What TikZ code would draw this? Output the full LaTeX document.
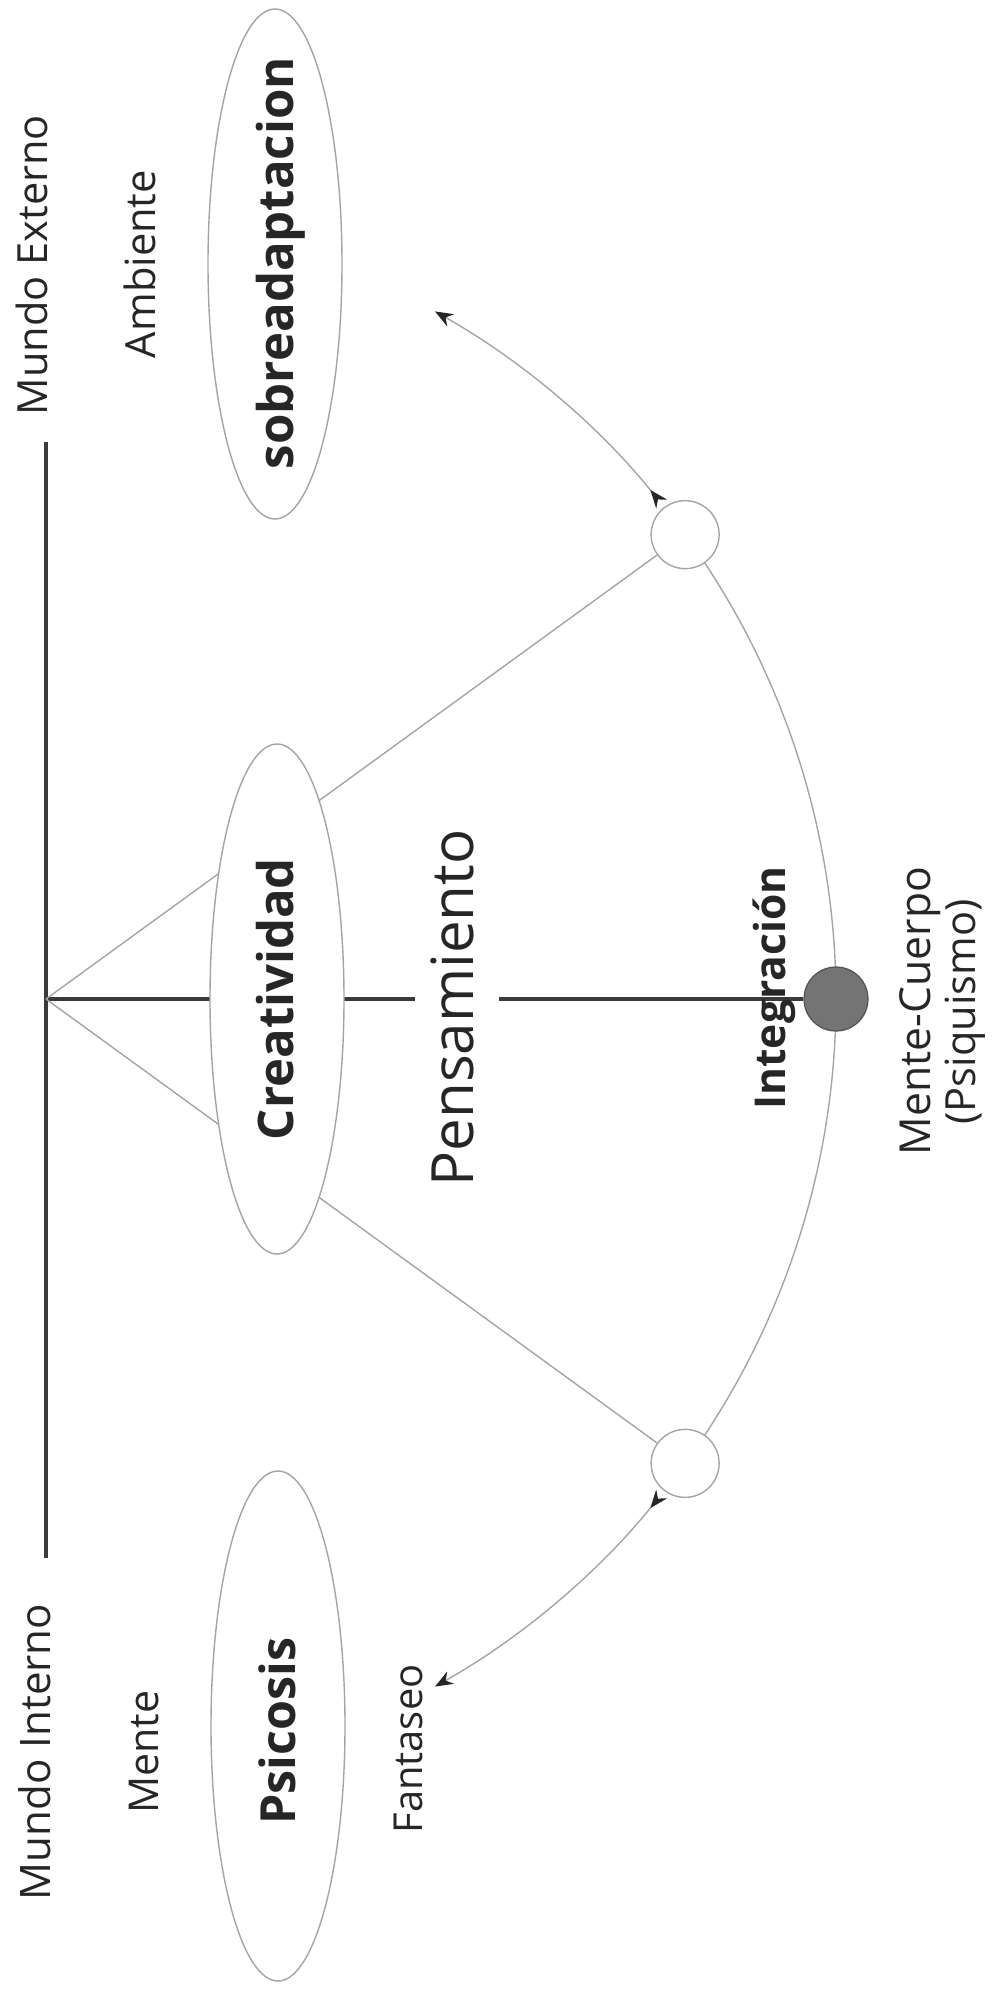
\documentclass[tikz,border=0pt]{standalone}
\usepackage{fontspec}
\setmainfont{Open Sans}
\usetikzlibrary{shapes.geometric,arrows.meta,calc,backgrounds}
\definecolor{ink}{HTML}{262626}
\definecolor{thickc}{HTML}{3A3A3A}
\definecolor{thinc}{HTML}{A4A4A4}
\definecolor{dotc}{HTML}{747474}
\definecolor{dotb}{HTML}{505050}
\newcommand{\fitw}[2]{\resizebox{#1pt}{!}{#2}}
\begin{document}
\begin{tikzpicture}[x=0.5pt,y=-0.5pt,
  lab/.style={rotate=90,anchor=base,inner sep=0pt,text=ink,font=\fontsize{22}{26}\selectfont},
  blab/.style={lab,font=\fontsize{26}{30}\selectfont\bfseries},
  ell/.style={draw=thinc,line width=0.7pt,fill=white,ellipse,minimum width=67pt,minimum height=255pt,inner sep=0pt},
  thk/.style={draw=thickc,line width=2pt},
  thn/.style={draw=thinc,line width=0.7pt},
  ring/.style={circle,draw=thinc,line width=0.7pt,fill=white,minimum size=34pt,inner sep=0pt},
  hub/.style={circle,draw=dotb,line width=0.6pt,fill=dotc,minimum size=32pt,inner sep=0pt},
  arr/.style={thn,{Stealth[reversed,length=9pt,width=7pt,color=ink]}-{Stealth[length=9pt,width=7pt,color=ink]}}
]
\useasboundingbox (0,0) rectangle (1000,1991);
\coordinate (J) at (46,999);
\coordinate (vt) at (46,442);
\coordinate (vb) at (46,1558);
\coordinate (gapL) at (415,999);
\coordinate (gapR) at (499,999);
\coordinate (a1s) at ($(J)+(-38.8:790)$);
\coordinate (a2s) at ($(J)+(38.8:790)$);
\coordinate (arcs) at ($(J)+(-36:790)$);

\node[ell] (esobre) at (275,264) {};
\node[ell] (ecrea) at (277,999) {};
\node[ell] (epsi) at (278,1726) {};

\node[ring] (rt) at ($(J)+(-36:790)$) {};
\node[ring] (rb) at ($(J)+(36:790)$) {};
\node[hub] (ig) at ($(J)+(0:790)$) {};

\begin{pgfonlayer}{background}
\draw[thk] (vt) -- (vb);
\draw[thk] (J) -- (gapL);
\draw[thk] (gapR) -- (ig);
\draw[thn] (J) -- (rt);
\draw[thn] (J) -- (rb);
\draw[thn] (arcs) arc[start angle=-36,end angle=36,radius=790];
\end{pgfonlayer}

\draw[arr] (a1s) arc[start angle=-38.8,end angle=-60.5,radius=790];
\draw[arr] (a2s) arc[start angle=38.8,end angle=60.5,radius=790];

\node[lab] (mext) at (47,265) {\fitw{150}{Mundo Externo}};
\node[lab] (mint) at (50,1752) {\fitw{148}{Mundo Interno}};
\node[lab] (amb) at (155,264) {\fitw{94}{Ambiente}};
\node[lab] (mente) at (158,1752) {\fitw{61.5}{Mente}};
\node[blab] (tsobre) at (293,263) {\fitw{206}{sobreadaptacion}};
\node[blab] (tcrea) at (293,999) {\fitw{141}{Creatividad}};
\node[blab] (tpsi) at (295,1731) {\fitw{93.5}{Psicosis}};
\node[lab] (fant) at (422,1749) {\fitw{84.5}{Fantaseo}};
\node[lab] (pens) at (473,1008) {\fitw{178.5}{Pensamiento}};
\node[blab] (integ) at (785,988) {\fitw{121.5}{Integración}};
\node[lab] (mc) at (930,1011) {\fitw{144}{Mente-Cuerpo}};
\node[lab] (psiq) at (975,1012) {\fitw{112.5}{(Psiquismo)}};
\end{tikzpicture}
\end{document}
